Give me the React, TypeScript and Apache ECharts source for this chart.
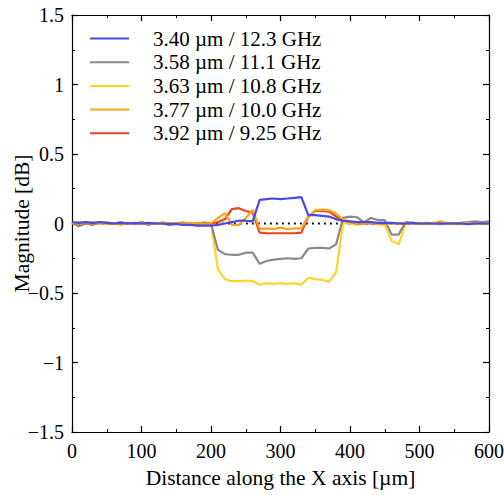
import React, { useEffect, useRef } from "react";
import * as echarts from "echarts";

const xs: number[] = [];
for (let i = 0; i <= 60; i++) xs.push(i * 10);

const names = [
  "3.40 µm / 12.3 GHz",
  "3.58 µm / 11.1 GHz",
  "3.63 µm / 10.8 GHz",
  "3.77 µm / 10.0 GHz",
  "3.92 µm / 9.25 GHz",
];
const colors = ["#4a4ae0", "#8a8a8a", "#ffd426", "#ffa41a", "#e8461e"];

const blue = [
  0.01, 0.005, 0.01, 0.005, 0.01, 0.005, 0.0, 0.005, 0.0, 0.005, 0.0, 0.005, 0.0, 0.0, -0.005, -0.005, -0.01,
  -0.01, -0.015, -0.015, -0.015, -0.01, 0.0, 0.01, 0.02, 0.02, 0.015,
  0.17, 0.175, 0.18, 0.175, 0.18, 0.185, 0.19,
  0.06, 0.06, 0.055, 0.05, 0.03, 0.02, 0.015, 0.01, 0.01, 0.01, 0.005, 0.005, 0.005, 0.0,
  0.0, 0.005, 0.0, 0.0, 0.0, 0.0, 0.0, 0.0, 0.0, -0.005, 0.0, 0.0, 0.0,
];
const grey = [
  0.005, -0.02, 0.0, -0.01, 0.01, 0.005, 0.0, 0.01, 0.0, -0.005, 0.01, -0.01, 0.005, 0.0, -0.01, 0.0, 0.005,
  -0.01, 0.0, 0.005, 0.0, -0.19, -0.22, -0.225, -0.225, -0.21, -0.21,
  -0.29, -0.27, -0.26, -0.255, -0.25, -0.255, -0.25,
  -0.18, -0.175, -0.175, -0.18, -0.15, 0.04, 0.05, 0.045, 0.01, 0.04, 0.025, 0.025, -0.08, -0.08,
  0.01, 0.005, 0.0, 0.005, 0.0, -0.005, 0.0, 0.0, 0.005, 0.01, 0.015, 0.01, 0.015,
];
const yellow = [
  0.0, 0.01, 0.0, 0.01, -0.005, 0.01, 0.0, -0.01, 0.005, 0.0, 0.01, 0.0, -0.005, 0.01, 0.0, 0.0, 0.01,
  -0.005, 0.0, 0.01, 0.005, -0.33, -0.4, -0.415, -0.415, -0.41, -0.415,
  -0.44, -0.43, -0.435, -0.43, -0.435, -0.43, -0.44,
  -0.39, -0.4, -0.405, -0.42, -0.35, 0.0, 0.0, -0.01, 0.0, 0.01, -0.005, -0.01, -0.125, -0.15,
  0.0, 0.005, 0.0, 0.0, 0.005, 0.0, -0.005, 0.0, 0.0, 0.005, 0.0, 0.005, 0.0,
];
const orange = [
  0.005, 0.0, 0.005, 0.0, 0.005, 0.0, 0.0, 0.005, 0.0, 0.0, 0.005, 0.0, 0.0, 0.005, 0.0, 0.0, 0.0,
  0.005, 0.0, 0.0, 0.0, 0.04, 0.075, -0.01, -0.01, 0.04, 0.097,
  -0.04, -0.035, -0.04, -0.03, -0.04, -0.035, -0.035,
  0.05, 0.095, 0.1, 0.095, 0.07, 0.03, 0.01, 0.005, 0.0, 0.005, 0.0, 0.0, 0.0, 0.005,
  0.0, 0.0, 0.005, 0.0, 0.0, 0.015, 0.0, 0.0, 0.0, 0.005, 0.0, 0.0, 0.0,
];
const red = [
  0.0, 0.005, 0.0, 0.0, 0.005, 0.0, 0.0, 0.0, 0.005, 0.0, 0.0, 0.0, 0.0, 0.005, 0.0, 0.0, 0.0,
  0.0, 0.0, 0.0, 0.0, 0.01, 0.03, 0.104, 0.11, 0.09, 0.078,
  -0.065, -0.07, -0.07, -0.07, -0.07, -0.07, -0.066,
  0.05, 0.09, 0.09, 0.085, 0.05, 0.02, 0.01, 0.0, 0.0, 0.0, 0.0, 0.0, 0.0, 0.0,
  0.0, 0.0, 0.0, 0.0, 0.0, 0.01, 0.0, 0.0, 0.0, 0.0, 0.0, 0.0, 0.0,
];
const zeroLine = [0, 600];

const FONT = "Liberation Serif";

export default function App() {
  const ref = useRef<HTMLDivElement>(null);
  useEffect(() => {
    const chart = echarts.init(ref.current!, null, { renderer: "svg" });
    const all = [blue, grey, yellow, orange, red];
    const drawOrder = [2, 1, 4, 3, 0];
    const pair = (arr: number[]) => xs.map((x, i) => [x, arr[i]]);
    const axisCommon = {
      axisLine: { show: true, onZero: false, lineStyle: { color: "#000", width: 1.2 } },
      axisTick: { show: true, inside: true, length: 6, lineStyle: { color: "#000", width: 1.2 } },
      minorTick: { show: true, splitNumber: 2, length: 3, lineStyle: { color: "#000", width: 1 } },
      splitLine: { show: false },
    };
    const series: any[] = [
      {
        name: "zero",
        type: "line",
        data: zeroLine.map((x) => [x, 0]),
        symbol: "none",
        silent: true,
        lineStyle: { color: "#000", width: 1.8, type: [1.8, 4.2] },
        z: 1,
      },
    ];
    drawOrder.forEach((k) => {
      series.push({
        name: names[k],
        type: "line",
        data: pair(all[k]),
        symbol: "none",
        lineStyle: { color: colors[k], width: 2.2 },
        itemStyle: { color: colors[k] },
        z: 2,
      });
    });
    chart.setOption({
      animation: false,
      backgroundColor: "#fff",
      textStyle: { fontFamily: FONT },
      grid: { left: 72, right: 15, top: 15, bottom: 63, outerBoundsMode: "none", containLabel: false },
      legend: {
        data: names,
        orient: "vertical",
        left: 85,
        top: 23,
        itemWidth: 39,
        itemHeight: 2,
        itemGap: 2.7,
        icon: "rect",
        textStyle: { fontFamily: FONT, fontSize: 21, color: "#000", padding: [0, 0, 0, 19] },
      },
      xAxis: [
        {
          type: "value",
          min: 0,
          max: 600,
          interval: 100,
          ...axisCommon,
          axisLabel: { color: "#000", fontSize: 20, fontFamily: FONT, margin: 9 },
          name: "Distance along the X axis [µm]",
          nameLocation: "middle",
          nameGap: 35,
          nameMoveOverlap: false,
          nameTextStyle: { color: "#000", fontSize: 21.5, fontFamily: FONT },
        },
        {
          type: "value",
          position: "top",
          min: 0,
          max: 600,
          interval: 100,
          ...axisCommon,
          axisLabel: { show: false },
        },
      ],
      yAxis: [
        {
          type: "value",
          min: -1.5,
          max: 1.5,
          interval: 0.5,
          ...axisCommon,
          axisLabel: {
            color: "#000",
            fontSize: 20,
            fontFamily: FONT,
            margin: 8,
            formatter: (v: number) => String(v).replace("-", "\u2212"),
          },
          name: "Magnitude [dB]",
          nameLocation: "middle",
          nameGap: 39,
          nameMoveOverlap: false,
          nameTextStyle: { color: "#000", fontSize: 21.5, fontFamily: FONT },
        },
        {
          type: "value",
          position: "right",
          min: -1.5,
          max: 1.5,
          interval: 0.5,
          ...axisCommon,
          axisLabel: { show: false },
        },
      ],
      series,
    });
    return () => chart.dispose();
  }, []);
  return <div ref={ref} style={{ width: 504, height: 495, position: "fixed", left: 0, top: 0 }} />;
}
